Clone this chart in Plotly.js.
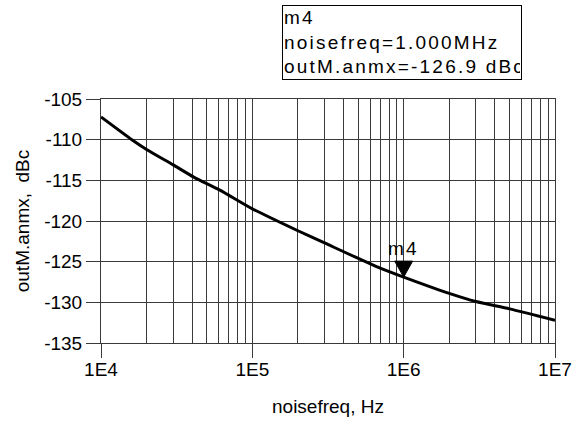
<!DOCTYPE html>
<html>
<head>
<meta charset="utf-8">
<script src="https://cdn.plot.ly/plotly-3.0.1.min.js"></script>
<style>
html,body{margin:0;padding:0;background:#fff;}
#chart{width:573px;height:424px;}
.annotation-text{letter-spacing:2.2px;}
</style>
</head>
<body>
<div id="chart"></div>
<script>
// Data
const noiseFreq = [1e4, 1.6e4, 2e4, 3e4, 4.1e4, 6.1e4, 1e5, 2e5, 3e5, 7e5, 1e6, 2e6, 3e6, 5e6, 1e7];
const outMAnmx  = [-107.2, -110.0, -111.2, -113.1, -114.6, -116.2, -118.5, -121.2, -122.7, -125.8, -126.9, -128.9, -129.9, -130.8, -132.2];
const xTickVals = [1e4, 1e5, 1e6, 1e7];
const xTickText = ['1E4', '1E5', '1E6', '1E7'];
const yTickVals = [-135, -130, -125, -120, -115, -110, -105];
const yTickText = ['-135', '-130', '-125', '-120', '-115', '-110', '-105'];
const markerName = 'm4';
const markerFreq = 1e6;
const markerVal = -126.9;
const markerLines = ['m4', 'noisefreq=1.000MHz', 'outM.anmx=-126.9 dBc'];

const FONT = 'Liberation Sans, Arial, sans-serif';
const GRID = '#3a3a3a';

const traces = [{
  x: noiseFreq, y: outMAnmx, type: 'scatter', mode: 'lines',
  line: {color: '#000', width: 3, shape: 'spline', smoothing: 0.6}, hoverinfo: 'skip'
}];

const layout = {
  width: 573, height: 424,
  margin: {l: 100.7, r: 18.3, t: 99, b: 81.3},
  paper_bgcolor: '#fff', plot_bgcolor: '#fff',
  showlegend: false,
  font: {family: FONT, size: 19, color: '#000'},
  xaxis: {
    type: 'log', range: [4, 7],
    tickmode: 'array', tickvals: xTickVals, ticktext: xTickText,
    ticks: 'outside', ticklen: 14, tickwidth: 1, tickcolor: GRID,
    ticklabelstandoff: -5,
    showgrid: true, gridcolor: GRID, gridwidth: 1,
    minor: {dtick: 'D1', showgrid: true, gridcolor: GRID, gridwidth: 1, ticks: ''},
    showline: true, mirror: true, linecolor: GRID, linewidth: 1,
    zeroline: false,
    tickfont: {family: FONT, size: 19, color: '#000'},
    title: {text: 'noisefreq, Hz', font: {family: FONT, size: 19, color: '#000'}, standoff: 20}
  },
  yaxis: {
    range: [-135, -105],
    tickmode: 'array', tickvals: yTickVals, ticktext: yTickText,
    ticks: 'outside', ticklen: 14, tickwidth: 1, tickcolor: GRID,
    showgrid: true, gridcolor: GRID, gridwidth: 1,
    showline: true, mirror: true, linecolor: GRID, linewidth: 1,
    zeroline: false,
    tickfont: {family: FONT, size: 19, color: '#000'},
    title: {text: 'outM.anmx,  dBc', font: {family: FONT, size: 19, color: '#000'}, standoff: 9}
  },
  shapes: [{
    type: 'path', xref: 'x', yref: 'y',
    xsizemode: 'pixel', ysizemode: 'pixel',
    xanchor: markerFreq, yanchor: markerVal,
    path: 'M -9 16 L 9 16 L 0 0 Z',
    fillcolor: '#000', line: {color: '#000', width: 1}
  }],
  annotations: [{
    x: Math.log10(markerFreq), y: markerVal, xref: 'x', yref: 'y',
    text: markerName, showarrow: false, xanchor: 'center', yanchor: 'bottom',
    yshift: 16, font: {family: FONT, size: 19, color: '#000'}
  }, {
    x: 0.3987, y: 1.3857, xref: 'paper', yref: 'paper',
    xanchor: 'left', yanchor: 'top', align: 'left', valign: 'top',
    text: markerLines.join('<br>'), showarrow: false,
    width: 236, height: 71, borderpad: 1, bordercolor: '#000', borderwidth: 1, bgcolor: '#fff',
    font: {family: FONT, size: 19, color: '#000'}
  }]
};

Plotly.newPlot('chart', traces, layout, {staticPlot: true, displayModeBar: false});
</script>
</body>
</html>
